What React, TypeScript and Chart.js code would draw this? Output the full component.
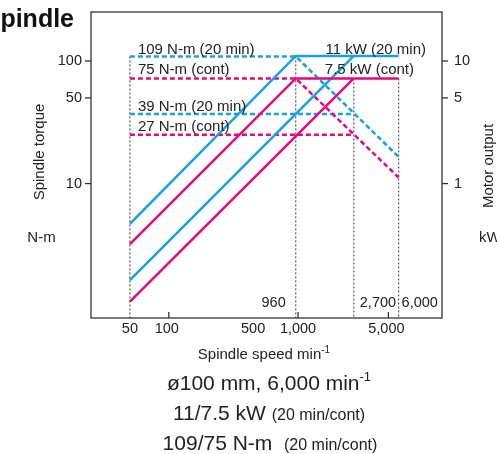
import React, { useEffect, useRef } from 'react';
import { Chart, registerables } from 'chart.js';

Chart.register(...registerables);

// ---- axis ticks ----
const speedTickValues = [50, 100, 500, 1000, 5000];
const speedTickLabels = ['50', '100', '500', '1,000', '5,000'];
const speedTickMarks = [100, 1000, 5000];
const torqueTickValues = [100, 50, 10];
const torqueTickLabels = ['100', '50', '10'];
const powerTickValues = [10, 5, 1];
const powerTickLabels = ['10', '5', '1'];

// ---- torque curves (N-m vs min-1) ----
const torque20HighSpeed = [50, 960, 6000];
const torque20HighValue = [109, 109, 16.5];
const torqueContHighSpeed = [50, 960, 6000];
const torqueContHighValue = [72, 72, 11.2];
const torque20LowSpeed = [50, 2700];
const torque20LowValue = [37, 37];
const torqueContLowSpeed = [50, 2700];
const torqueContLowValue = [25, 25];

// ---- output curves (kW vs min-1) ----
const power20HighSpeed = [50, 960, 6000];
const power20HighValue = [0.468, 11, 11];
const powerContHighSpeed = [50, 960, 6000];
const powerContHighValue = [0.32, 7.2, 7.2];
const power20LowSpeed = [50, 2700];
const power20LowValue = [0.163, 11];
const powerContLowSpeed = [50, 2700];
const powerContLowValue = [0.109, 7.2];

// ---- guide lines ----
const guideSpeeds = [50, 960, 2700, 6000];
const guideTopTorque = [109, 109, 72, 72];
const guideLabelSpeeds = [960, 2700, 6000];
const guideLabels = ['960', '2,700', '6,000'];

const BLUE = '#16a2e0';
const PINK = '#e4097f';
const FONT = '"Liberation Sans", Arial, Helvetica, sans-serif';
const TEXT = '#222';

const Y_MIN = 0.8;
const Y_MAX = 251;

function series(xs: number[], ys: number[], color: string, dashed: boolean, axis: string) {
  return {
    data: xs.map((x, i) => ({ x, y: ys[i] })),
    borderColor: color,
    backgroundColor: color,
    borderWidth: 2.5,
    borderDash: dashed ? [5, 3] : [],
    borderCapStyle: 'butt' as const,
    pointRadius: 0,
    fill: false,
    tension: 0,
    yAxisID: axis,
  };
}

function drawRuns(ctx: CanvasRenderingContext2D, cx: number, baseline: number, runs: { t: string; size: number; dy?: number }[]) {
  let total = 0;
  const widths = runs.map((r) => {
    ctx.font = `${r.size}px ${FONT}`;
    const w = ctx.measureText(r.t).width;
    total += w;
    return w;
  });
  let x = cx - total / 2;
  ctx.textAlign = 'left';
  ctx.textBaseline = 'alphabetic';
  runs.forEach((r, i) => {
    ctx.font = `${r.size}px ${FONT}`;
    ctx.fillText(r.t, x, baseline + (r.dy || 0));
    x += widths[i];
  });
}

const decorPlugin = {
  id: 'decor',
  afterDraw(chart: any) {
    const ctx: CanvasRenderingContext2D = chart.ctx;
    const a = chart.chartArea;
    const xs = chart.scales.x;
    const ys = chart.scales.y;
    const y2 = chart.scales.y2;
    ctx.save();

    // frame
    ctx.strokeStyle = '#333';
    ctx.lineWidth = 1.3;
    ctx.setLineDash([]);
    ctx.strokeRect(a.left, a.top, a.right - a.left, a.bottom - a.top);

    ctx.fillStyle = TEXT;
    ctx.font = `14.5px ${FONT}`;

    // left ticks
    ctx.textAlign = 'right';
    ctx.textBaseline = 'middle';
    torqueTickValues.forEach((v, i) => {
      const py = ys.getPixelForValue(v);
      ctx.beginPath();
      ctx.moveTo(a.left - 6, py);
      ctx.lineTo(a.left, py);
      ctx.stroke();
      ctx.fillText(torqueTickLabels[i], a.left - 9, py);
    });

    // right ticks
    ctx.textAlign = 'left';
    powerTickValues.forEach((v, i) => {
      const py = y2.getPixelForValue(v);
      ctx.beginPath();
      ctx.moveTo(a.right, py);
      ctx.lineTo(a.right + 6, py);
      ctx.stroke();
      ctx.fillText(powerTickLabels[i], a.right + 12, py);
    });

    // bottom ticks (inside)
    speedTickMarks.forEach((v) => {
      const px = xs.getPixelForValue(v);
      ctx.beginPath();
      ctx.moveTo(px, a.bottom);
      ctx.lineTo(px, a.bottom - 6);
      ctx.stroke();
    });
    ctx.textAlign = 'center';
    ctx.textBaseline = 'alphabetic';
    speedTickValues.forEach((v, i) => {
      const px = xs.getPixelForValue(v) + (v === 500 ? -6 : v === 100 || v === 5000 ? -2 : 0);
      ctx.fillText(speedTickLabels[i], px, a.bottom + 15);
    });

    // guide labels
    guideLabelSpeeds.forEach((v, i) => {
      const px = xs.getPixelForValue(v);
      if (i === 0) {
        ctx.textAlign = 'right';
        ctx.fillText(guideLabels[i], px - 10, a.bottom - 11);
      } else {
        ctx.textAlign = 'left';
        ctx.fillText(guideLabels[i], px + (i === 1 ? 6 : 3), a.bottom - 11);
      }
    });

    // curve annotations
    ctx.font = `15px ${FONT}`;
    const lx = xs.getPixelForValue(50) + 8;
    ctx.textAlign = 'left';
    ctx.fillText('109 N-m (20 min)', lx, ys.getPixelForValue(109) - 2);
    ctx.fillText('75 N-m (cont)', lx, ys.getPixelForValue(72) - 4);
    ctx.fillText('39 N-m (20 min)', lx, ys.getPixelForValue(37) - 3);
    ctx.fillText('27 N-m (cont)', lx, ys.getPixelForValue(25) - 4);
    ctx.textAlign = 'right';
    ctx.fillText('11 kW (20 min)', a.right - 16, y2.getPixelForValue(11) - 2);
    ctx.fillText('7.5 kW (cont)', a.right - 28, y2.getPixelForValue(7.2) - 4);

    // axis titles
    ctx.textAlign = 'center';
    ctx.textBaseline = 'middle';
    ctx.save();
    ctx.translate(40, 152);
    ctx.rotate(-Math.PI / 2);
    ctx.fillText('Spindle torque', 0, 0);
    ctx.restore();
    ctx.fillText('N-m', 41.5, 238);

    ctx.save();
    ctx.translate(489, 166);
    ctx.rotate(-Math.PI / 2);
    ctx.fillText('Motor output', 0, 0);
    ctx.restore();
    ctx.textAlign = 'left';
    ctx.fillText('kW', 479, 238);

    ctx.fillStyle = TEXT;
    drawRuns(ctx, 264, 359, [
      { t: 'Spindle speed min', size: 15 },
      { t: '-1', size: 10, dy: -6 },
    ]);

    // spec lines
    drawRuns(ctx, 269, 390, [
      { t: 'ø100 mm, 6,000 min', size: 21 },
      { t: '-1', size: 13, dy: -9 },
    ]);
    drawRuns(ctx, 269, 420, [
      { t: '11/7.5 kW ', size: 21 },
      { t: '(20 min/cont)', size: 16 },
    ]);
    drawRuns(ctx, 270, 450, [
      { t: '109/75 N-m  ', size: 21 },
      { t: '(20 min/cont)', size: 16 },
    ]);

    // title (left part clipped by the page edge)
    ctx.font = `bold 25px ${FONT}`;
    ctx.textAlign = 'right';
    ctx.textBaseline = 'alphabetic';
    ctx.fillStyle = '#111';
    ctx.fillText('Spindle', 74, 27);

    ctx.restore();
  },
};

export default function App() {
  const ref = useRef<HTMLCanvasElement | null>(null);

  useEffect(() => {
    document.body.style.margin = '0';
    const canvas = ref.current;
    if (!canvas) return;

    const guides = guideSpeeds.map((s, i) => ({
      data: [
        { x: s, y: guideTopTorque[i] },
        { x: s, y: Y_MIN },
      ],
      borderColor: '#555',
      borderWidth: 1.2,
      borderDash: [2, 2],
      pointRadius: 0,
      fill: false,
      yAxisID: 'y',
    }));

    const chart = new Chart(canvas, {
      type: 'line',
      data: {
        datasets: [
          series(power20HighSpeed, power20HighValue, BLUE, false, 'y2'),
          series(powerContHighSpeed, powerContHighValue, PINK, false, 'y2'),
          series(power20LowSpeed, power20LowValue, BLUE, false, 'y2'),
          series(powerContLowSpeed, powerContLowValue, PINK, false, 'y2'),
          series(torque20HighSpeed, torque20HighValue, BLUE, true, 'y'),
          series(torqueContHighSpeed, torqueContHighValue, PINK, true, 'y'),
          series(torque20LowSpeed, torque20LowValue, BLUE, true, 'y'),
          series(torqueContLowSpeed, torqueContLowValue, PINK, true, 'y'),
          ...guides,
        ] as any,
      },
      options: {
        responsive: false,
        animation: false,
        layout: { padding: { left: 91, right: 55, top: 12, bottom: 136 } },
        plugins: { legend: { display: false }, tooltip: { enabled: false } },
        scales: {
          x: { type: 'logarithmic', min: 25, max: 13000, display: false },
          y: { type: 'logarithmic', min: Y_MIN, max: Y_MAX, display: false, position: 'left' },
          y2: { type: 'logarithmic', min: Y_MIN / 10, max: Y_MAX / 10, display: false, position: 'right' },
        },
      } as any,
      plugins: [decorPlugin],
    });

    return () => chart.destroy();
  }, []);

  return (
    <div style={{ position: 'fixed', left: 0, top: 0, width: 497, height: 454, background: '#fff' }}>
      <canvas ref={ref} width={497} height={454} style={{ width: 497, height: 454, display: 'block' }} />
    </div>
  );
}
